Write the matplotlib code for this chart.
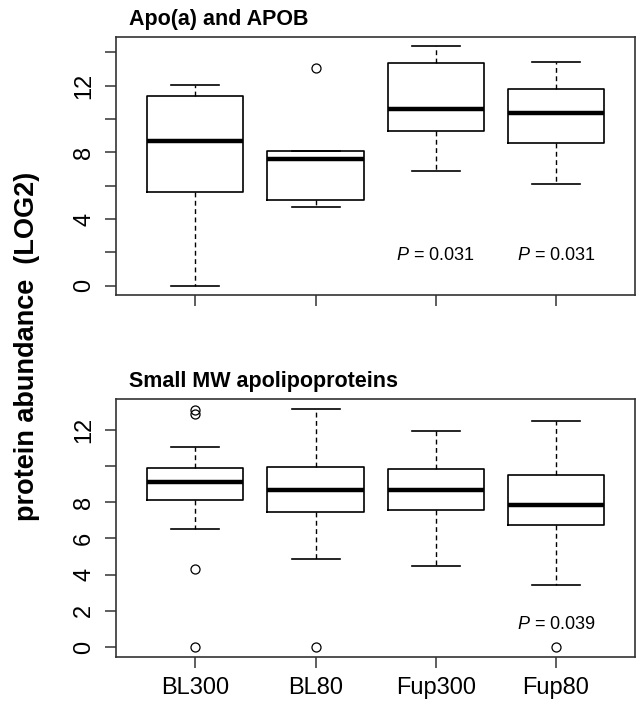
import matplotlib
matplotlib.use("Agg")
import matplotlib.pyplot as plt

plt.rcParams['font.family'] = ['Liberation Sans', 'DejaVu Sans']
plt.rcParams['mathtext.fontset'] = 'custom'
plt.rcParams['mathtext.rm'] = 'Liberation Sans'
plt.rcParams['mathtext.it'] = 'Liberation Sans:italic'

groups = ['BL300', 'BL80', 'Fup300', 'Fup80']

# panel 1: Apo(a) and APOB
apo_whislo = [0.0, 4.72, 6.88, 6.10]
apo_q1 = [5.60, 5.12, 9.26, 8.54]
apo_med = [8.70, 7.60, 10.62, 10.38]
apo_q3 = [11.40, 8.10, 13.34, 11.82]
apo_whishi = [12.03, 8.10, 14.36, 13.44]
apo_fliers = [[], [13.08], [], []]
apo_pvals = ['', '', '0.031', '0.031']
apo_ticks = [0, 2, 4, 6, 8, 10, 12, 14]
apo_ticklabels = ['0', '', '4', '', '8', '', '12', '']

# panel 2: small MW apolipoproteins
small_whislo = [6.51, 4.86, 4.50, 3.41]
small_q1 = [8.11, 7.45, 7.56, 6.72]
small_med = [9.10, 8.68, 8.68, 7.85]
small_q3 = [9.89, 9.93, 9.85, 9.52]
small_whishi = [11.06, 13.16, 11.93, 12.50]
small_fliers = [[13.06, 12.84, 4.29, 0.0], [0.0], [], [0.0]]
small_pvals = ['', '', '', '0.039']
small_ticks = [0, 2, 4, 6, 8, 10, 12]
small_ticklabels = ['0', '2', '4', '6', '8', '', '12']


def make_stats(lo, q1, med, q3, hi, fl):
    return [dict(whislo=a, q1=b, med=c, q3=d, whishi=e, fliers=f, label=g)
            for a, b, c, d, e, f, g in zip(lo, q1, med, q3, hi, fl, groups)]


def draw_panel(ax, stats, ticks, ticklabels, pvals, pval_y, ylim, show_xlabels):
    ax.bxp(stats, positions=range(1, 5), widths=0.8, capwidths=0.4,
           boxprops=dict(color='black', lw=1.2),
           medianprops=dict(color='black', lw=3.2, solid_capstyle='butt'),
           whiskerprops=dict(color='black', lw=1.0, linestyle=(0, (3.5, 2.5))),
           capprops=dict(color='black', lw=1.2),
           flierprops=dict(marker='o', mfc='none', mec='black', ms=6.5, mew=0.9))
    ax.set_xlim(0.34, 4.66)
    ax.set_ylim(*ylim)
    ax.set_yticks(ticks)
    ax.set_yticklabels(ticklabels, rotation=90, va='center')
    ax.set_xticks(range(1, 5))
    if show_xlabels:
        ax.set_xticklabels(groups)
    else:
        ax.set_xticklabels([])
    ax.tick_params(axis='both', length=8, width=1.1, labelsize=17, color='#333333')
    ax.tick_params(axis='y', pad=7)
    ax.tick_params(axis='x', pad=6.5)
    for s in ax.spines.values():
        s.set_linewidth(1.2)
        s.set_color('#333333')
    for i, p in enumerate(pvals):
        if p:
            ax.text(i + 1, pval_y, '$P$ = ' + p, ha='center', va='center', fontsize=13)


W, H = 637, 703
fig = plt.figure(figsize=(W / 100, H / 100), dpi=100)
left = 116 / W
width = (635.3 - 116) / W
ax1 = fig.add_axes([left, (H - 295.3) / H, width, (295.3 - 36.7) / H])
ax2 = fig.add_axes([left, (H - 656.7) / H, width, (656.7 - 399) / H])

draw_panel(ax1, make_stats(apo_whislo, apo_q1, apo_med, apo_q3, apo_whishi, apo_fliers),
           apo_ticks, apo_ticklabels, apo_pvals, 1.82, (-0.574, 14.93), False)
draw_panel(ax2, make_stats(small_whislo, small_q1, small_med, small_q3, small_whishi, small_fliers),
           small_ticks, small_ticklabels, small_pvals, 1.27, (-0.526, 13.69), True)

fig.text(129 / W, 1 - 20 / H, 'Apo(a) and APOB', fontsize=15.5, fontweight='bold',
         ha='left', va='center')
fig.text(129 / W, 1 - 381 / H, 'Small MW apolipoproteins', fontsize=15.5, fontweight='bold',
         ha='left', va='center')
fig.text(27 / W, 1 - 346 / H, 'protein abundance  (LOG2)', fontsize=19.5, fontweight='bold',
         rotation=90, ha='center', va='center')

fig.savefig('out.png', dpi=100)
